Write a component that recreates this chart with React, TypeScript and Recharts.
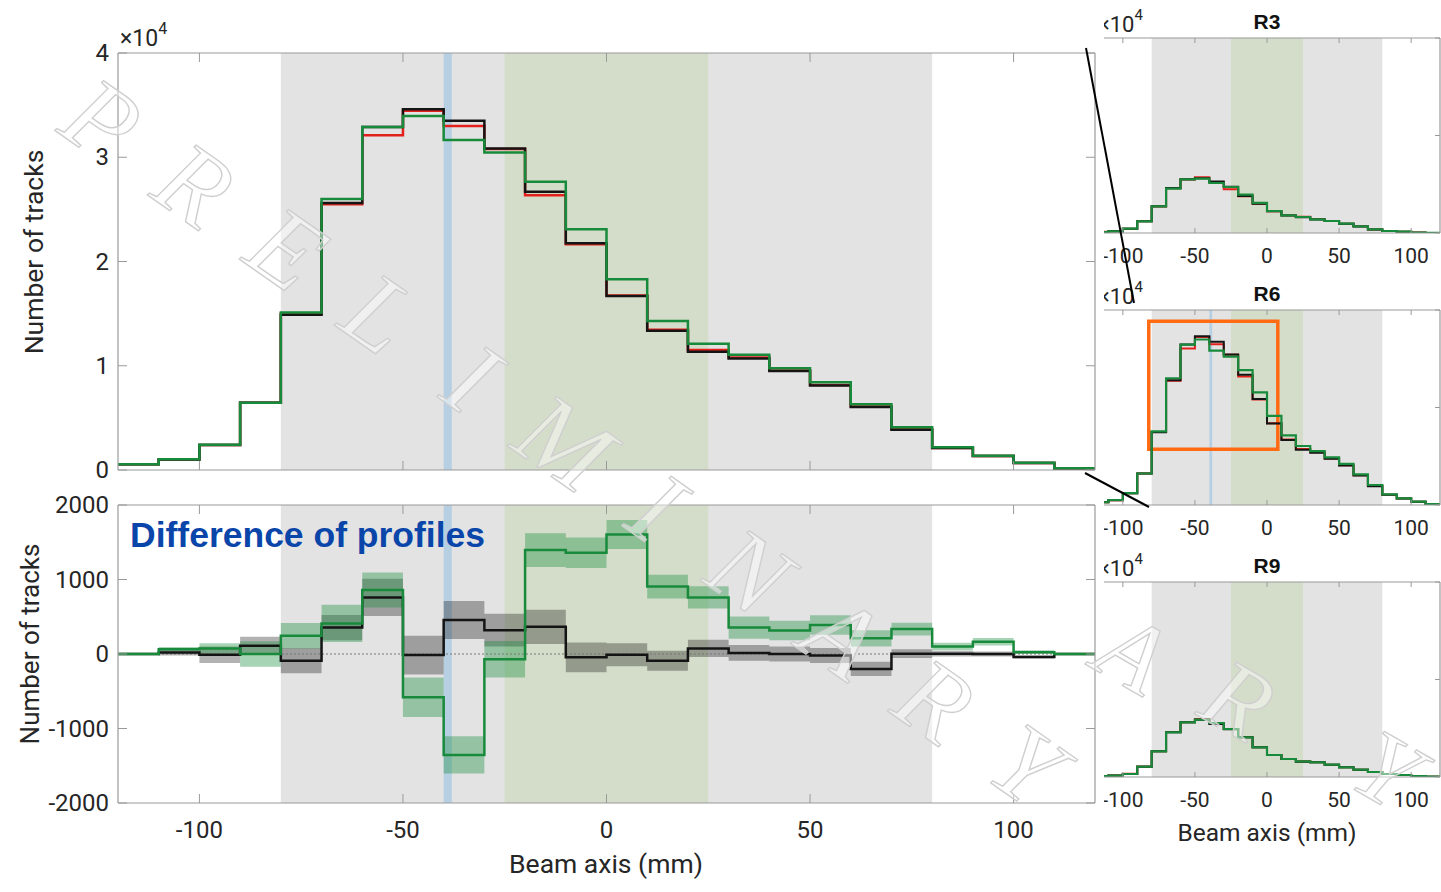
import React from "react";
import { ComposedChart, Line, Area, XAxis, YAxis, ReferenceArea, ReferenceLine } from "recharts";

// bins are 10 mm wide, given by their left edge
const binStarts = [-120, -110, -100, -90, -80, -70, -60, -50, -40, -30, -20, -10, 0, 10, 20, 30, 40, 50, 60, 70, 80, 90, 100, 110];
const binEnd = 120;

// R6 profiles (main panel, also the R6 thumbnail)
const r6Black = [550, 1000, 2400, 6450, 14900, 25600, 32900, 34600, 33500, 30850, 26700, 21750, 16700, 13350, 11350, 10700, 9500, 8100, 6050, 3850, 2100, 1350, 680, 150];
const r6Red = [550, 1000, 2400, 6450, 15000, 25500, 32100, 34450, 33000, 30800, 26350, 21650, 16750, 13450, 11500, 10800, 9550, 8150, 6100, 3900, 2100, 1350, 680, 150];
const r6Green = [560, 1030, 2420, 6460, 15100, 26000, 32900, 33950, 31650, 30450, 27650, 23100, 18300, 14300, 12100, 11050, 9750, 8420, 6300, 4100, 2180, 1370, 700, 160];

// difference of profiles and their uncertainties
const diffBlack = [0, 20, -10, 110, -90, 355, 760, -15, 455, 320, 365, -45, -10, -90, 75, 15, 0, -20, -200, 5, 5, 0, -40, 0];
const diffBlackErr = [10, 40, 110, 120, 170, 170, 250, 260, 255, 220, 230, 200, 155, 135, 115, 105, 100, 100, 95, 60, 40, 35, 20, 5];
const diffGreen = [0, 65, 75, 0, 245, 410, 860, -580, -1355, -70, 1395, 1360, 1605, 905, 760, 355, 315, 390, 210, 335, 100, 165, 25, 0];
const diffGreenErr = [10, 30, 70, 170, 170, 250, 235, 265, 250, 245, 227, 205, 195, 160, 150, 150, 130, 130, 110, 85, 50, 50, 25, 5];

// R3 thumbnail
const r3Black = [200, 340, 890, 2390, 5470, 9250, 11050, 11250, 10550, 9500, 7600, 6000, 4450, 3600, 3250, 2780, 2450, 1900, 1350, 740, 400, 260, 70, 20];
const r3Red = [250, 340, 890, 2390, 5450, 9200, 11000, 11450, 10400, 8950, 7550, 6000, 4450, 3650, 3320, 2850, 2460, 1900, 1360, 740, 420, 270, 80, 20];
const r3Green = [200, 340, 890, 2390, 5470, 9100, 11010, 11150, 10260, 9440, 7870, 6160, 4510, 3630, 3280, 2800, 2460, 1920, 1370, 750, 410, 270, 70, 20];

// R9 thumbnail
const r9Black = [200, 300, 620, 2120, 5270, 9170, 11220, 11760, 10880, 9800, 8140, 6090, 4510, 3690, 3150, 3010, 2530, 1980, 1500, 1030, 620, 410, 200, 70];
const r9Red = [200, 300, 680, 2150, 5300, 9250, 11250, 11900, 11080, 9850, 8140, 6090, 4510, 3690, 3210, 3050, 2530, 1980, 1500, 1030, 620, 410, 200, 70];
const r9Green = [200, 300, 620, 2120, 5270, 9170, 11220, 11760, 11080, 9850, 8140, 6090, 4510, 3690, 3210, 3010, 2530, 1980, 1500, 1030, 620, 410, 200, 70];

const xTicks = [-100, -50, 0, 50, 100];
const countTicks = [0, 10000, 20000, 30000, 40000];
const diffTicks = [-2000, -1000, 0, 1000, 2000];
const thumbRightTicks = [0, 20000, 40000];

const xDomain: [number, number] = [-120, 120];
const countDomain: [number, number] = [0, 40000];
const diffDomain: [number, number] = [-2000, 2000];

const axisGray = "#9a9a9a";
const textGray = "#262626";
const grayBand = "#e3e3e3";
const greenBand = "#d4ddc9";
const beamBlue = "#b7cfe2";
const cBlack = "#141414";
const cRed = "#e3211c";
const cGreen = "#188a3b";

function stepRows(cols: Record<string, number[]>) {
  return [...binStarts, binEnd].map((x, i) => {
    const j = Math.min(i, binStarts.length - 1);
    const row: Record<string, any> = { x };
    Object.keys(cols).forEach((k) => (row[k] = cols[k][j]));
    return row;
  });
}

const profileRows = stepRows({ black: r6Black, red: r6Red, green: r6Green });
const r3Rows = stepRows({ black: r3Black, red: r3Red, green: r3Green });
const r9Rows = stepRows({ black: r9Black, red: r9Red, green: r9Green });
const diffRows = stepRows({ black: diffBlack, green: diffGreen }).map((r, i) => {
  const j = Math.min(i, binStarts.length - 1);
  return {
    ...r,
    blackBand: [diffBlack[j] - diffBlackErr[j], diffBlack[j] + diffBlackErr[j]],
    greenBand: [diffGreen[j] - diffGreenErr[j], diffGreen[j] + diffGreenErr[j]],
  };
});

type TickSpec = { side: "bottom" | "top" | "left" | "right"; len: number; size?: number; gap?: number; fmt?: (v: number) => string };

// matlab style: ticks point into the box, labels outside
function tickRenderer(s: TickSpec) {
  return (p: any) => {
    const { x, y, payload } = p;
    const v = payload.value as number;
    const d = s.len;
    const seg =
      s.side === "bottom" ? [x, y, x, y - d] : s.side === "top" ? [x, y, x, y + d] : s.side === "left" ? [x, y, x + d, y] : [x, y, x - d, y];
    let label = null;
    if (s.fmt && s.side === "bottom")
      label = (
        <text x={x} y={y + (s.gap || 0)} textAnchor="middle" dominantBaseline="central" fontSize={s.size} fill={textGray}>
          {s.fmt(v)}
        </text>
      );
    if (s.fmt && s.side === "left")
      label = (
        <text x={x - (s.gap || 0)} y={y} textAnchor="end" dominantBaseline="central" fontSize={s.size} fill={textGray}>
          {s.fmt(v)}
        </text>
      );
    return (
      <g>
        <line x1={seg[0]} y1={seg[1]} x2={seg[2]} y2={seg[3]} stroke={axisGray} strokeWidth={1} />
        {label}
      </g>
    );
  };
}

const boxLine = { stroke: axisGray, strokeWidth: 1.2 };

function Thumb({ rows, top, beam, zoomBox }: { rows: any[]; top: number; beam?: boolean; zoomBox?: boolean }) {
  return (
    <div style={{ position: "absolute", left: -10, top }}>
      <ComposedChart width={347} height={275} data={rows} margin={{ top: 37, right: 0, bottom: 0, left: 0 }}>
        <XAxis xAxisId="b" dataKey="x" type="number" domain={xDomain} allowDataOverflow ticks={xTicks} interval={0} height={42}
          tickSize={0} tickMargin={0} tickLine={false} axisLine={boxLine} tick={tickRenderer({ side: "bottom", len: 5, size: 21, gap: 23, fmt: String })} />
        <XAxis xAxisId="t" orientation="top" dataKey="x" type="number" domain={xDomain} allowDataOverflow ticks={xTicks} interval={0} height={1}
          tickSize={0} tickMargin={0} tickLine={false} axisLine={boxLine} tick={tickRenderer({ side: "top", len: 5 })} />
        <YAxis yAxisId="l" type="number" domain={countDomain} allowDataOverflow hide width={0} />
        <YAxis yAxisId="r" orientation="right" type="number" domain={countDomain} allowDataOverflow ticks={thumbRightTicks} interval={0} width={1}
          tickSize={0} tickMargin={0} tickLine={false} axisLine={boxLine} tick={tickRenderer({ side: "right", len: 5 })} />
        <ReferenceArea xAxisId="b" yAxisId="l" x1={-80} x2={80} fill={grayBand} fillOpacity={1} stroke="none" />
        <ReferenceArea xAxisId="b" yAxisId="l" x1={-25} x2={25} fill={greenBand} fillOpacity={1} stroke="none" />
        {beam && <ReferenceArea xAxisId="b" yAxisId="l" x1={-40} x2={-38} fill={beamBlue} fillOpacity={1} stroke="none" />}
        <Line xAxisId="b" yAxisId="l" type="stepAfter" dataKey="red" stroke={cRed} strokeWidth={2} dot={false} isAnimationActive={false} />
        <Line xAxisId="b" yAxisId="l" type="stepAfter" dataKey="black" stroke={cBlack} strokeWidth={2} dot={false} isAnimationActive={false} />
        <Line xAxisId="b" yAxisId="l" type="stepAfter" dataKey="green" stroke={cGreen} strokeWidth={2.2} dot={false} isAnimationActive={false} />
        {zoomBox && (
          <ReferenceArea xAxisId="b" yAxisId="l" x1={-82} x2={7.5} y1={11450} y2={37700} fill="none" fillOpacity={0}
            stroke="#ff6a13" strokeWidth={3.5} ifOverflow="visible" />
        )}
      </ComposedChart>
    </div>
  );
}

const wmMain = "PRELIMINARY".split("");
const wmSide = ["A", "R", "Y"];
const wmSidePos = [
  [1133, 653],
  [1238, 700],
  [1387, 770],
];

export default function App() {
  return (
    <div style={{ position: "absolute", left: 0, top: 0, width: 1441, height: 892, background: "#fff", fontFamily: "Roboto, sans-serif", overflow: "hidden" }}>
      {/* main profile panel */}
      <div style={{ position: "absolute", left: 0, top: 0 }}>
        <ComposedChart width={1100} height={492} data={profileRows} margin={{ top: 52, right: 4, bottom: 21, left: 0 }}>
          <XAxis xAxisId="b" dataKey="x" type="number" domain={xDomain} allowDataOverflow ticks={xTicks} interval={0} height={1}
            tickSize={0} tickMargin={0} tickLine={false} axisLine={boxLine} tick={tickRenderer({ side: "bottom", len: 9 })} />
          <XAxis xAxisId="t" orientation="top" dataKey="x" type="number" domain={xDomain} allowDataOverflow ticks={xTicks} interval={0} height={1}
            tickSize={0} tickMargin={0} tickLine={false} axisLine={boxLine} tick={tickRenderer({ side: "top", len: 9 })} />
          <YAxis yAxisId="l" type="number" domain={countDomain} allowDataOverflow ticks={countTicks} interval={0} width={118}
            tickSize={0} tickMargin={0} tickLine={false} axisLine={boxLine}
            tick={tickRenderer({ side: "left", len: 9, size: 24, gap: 9, fmt: (v) => String(v / 10000) })} />
          <YAxis yAxisId="r" orientation="right" type="number" domain={countDomain} allowDataOverflow ticks={countTicks} interval={0} width={1}
            tickSize={0} tickMargin={0} tickLine={false} axisLine={boxLine} tick={tickRenderer({ side: "right", len: 9 })} />
          <ReferenceArea xAxisId="b" yAxisId="l" x1={-80} x2={80} fill={grayBand} fillOpacity={1} stroke="none" />
          <ReferenceArea xAxisId="b" yAxisId="l" x1={-25} x2={25} fill={greenBand} fillOpacity={1} stroke="none" />
          <ReferenceArea xAxisId="b" yAxisId="l" x1={-40} x2={-38} fill={beamBlue} fillOpacity={1} stroke="none" />
          <Line xAxisId="b" yAxisId="l" type="stepAfter" dataKey="red" stroke={cRed} strokeWidth={2.5} dot={false} isAnimationActive={false} />
          <Line xAxisId="b" yAxisId="l" type="stepAfter" dataKey="black" stroke={cBlack} strokeWidth={2.5} dot={false} isAnimationActive={false} />
          <Line xAxisId="b" yAxisId="l" type="stepAfter" dataKey="green" stroke={cGreen} strokeWidth={2.5} dot={false} isAnimationActive={false} />
        </ComposedChart>
      </div>

      {/* difference panel */}
      <div style={{ position: "absolute", left: 0, top: 480 }}>
        <ComposedChart width={1100} height={412} data={diffRows} margin={{ top: 24, right: 4, bottom: 0, left: 0 }}>
          <XAxis xAxisId="b" dataKey="x" type="number" domain={xDomain} allowDataOverflow ticks={xTicks} interval={0} height={89}
            tickSize={0} tickMargin={0} tickLine={false} axisLine={boxLine} tick={tickRenderer({ side: "bottom", len: 9, size: 24, gap: 27, fmt: String })} />
          <XAxis xAxisId="t" orientation="top" dataKey="x" type="number" domain={xDomain} allowDataOverflow ticks={xTicks} interval={0} height={1}
            tickSize={0} tickMargin={0} tickLine={false} axisLine={boxLine} tick={tickRenderer({ side: "top", len: 9 })} />
          <YAxis yAxisId="l" type="number" domain={diffDomain} allowDataOverflow ticks={diffTicks} interval={0} width={118}
            tickSize={0} tickMargin={0} tickLine={false} axisLine={boxLine} tick={tickRenderer({ side: "left", len: 9, size: 24, gap: 9, fmt: String })} />
          <YAxis yAxisId="r" orientation="right" type="number" domain={diffDomain} allowDataOverflow ticks={diffTicks} interval={0} width={1}
            tickSize={0} tickMargin={0} tickLine={false} axisLine={boxLine} tick={tickRenderer({ side: "right", len: 9 })} />
          <ReferenceArea xAxisId="b" yAxisId="l" x1={-80} x2={80} fill={grayBand} fillOpacity={1} stroke="none" />
          <ReferenceArea xAxisId="b" yAxisId="l" x1={-25} x2={25} fill={greenBand} fillOpacity={1} stroke="none" />
          <ReferenceArea xAxisId="b" yAxisId="l" x1={-40} x2={-38} fill={beamBlue} fillOpacity={1} stroke="none" />
          <Area xAxisId="b" yAxisId="l" type="stepAfter" dataKey="blackBand" fill="#000" fillOpacity={0.3} stroke="none" isAnimationActive={false} />
          <Area xAxisId="b" yAxisId="l" type="stepAfter" dataKey="greenBand" fill="#1a8f3e" fillOpacity={0.38} stroke="none" isAnimationActive={false} />
          <ReferenceLine xAxisId="b" yAxisId="l" y={0} stroke="#777" strokeDasharray="2 2" strokeWidth={1} />
          <Line xAxisId="b" yAxisId="l" type="stepAfter" dataKey="black" stroke={cBlack} strokeWidth={2.5} dot={false} isAnimationActive={false} />
          <Line xAxisId="b" yAxisId="l" type="stepAfter" dataKey="green" stroke={cGreen} strokeWidth={2.5} dot={false} isAnimationActive={false} />
        </ComposedChart>
      </div>

      {/* thumbnails, left part hidden behind the main figure */}
      <div style={{ position: "absolute", left: 1104, top: 0, width: 337, height: 892, overflow: "hidden" }}>
        <Thumb rows={r3Rows} top={0} />
        <Thumb rows={profileRows} top={272} beam zoomBox />
        <Thumb rows={r9Rows} top={544} />
      </div>

      {/* annotations */}
      <svg width={1441} height={892} style={{ position: "absolute", left: 0, top: 0, pointerEvents: "none" }}>
        <defs>
          <clipPath id="thumbClip">
            <rect x={1104} y={0} width={337} height={892} />
          </clipPath>
        </defs>
        <text x={120} y={46} fontSize={23} fill={textGray}>
          ×10<tspan dy={-12} fontSize={16}>4</tspan>
        </text>
        <text transform="translate(43,252) rotate(-90)" textAnchor="middle" fontSize={26.5} fill={textGray}>Number of tracks</text>
        <text transform="translate(38.5,644) rotate(-90)" textAnchor="middle" fontSize={26} fill={textGray}>Number of tracks</text>
        <text x={606} y={873} textAnchor="middle" fontSize={26.5} fill={textGray}>Beam axis (mm)</text>
        <text x={1267} y={841} textAnchor="middle" fontSize={24.5} fill={textGray}>Beam axis (mm)</text>
        <text x={130} y={547} fontFamily="'Liberation Sans', Arial, sans-serif" fontWeight="bold" fontSize={35.5} fill="#0a46aa">Difference of profiles</text>
        {[["R3", 0], ["R6", 272], ["R9", 544]].map(([t, dy]) => (
          <g key={t as string}>
            <text x={1267} y={28.5 + (dy as number)} textAnchor="middle" fontFamily="'Liberation Sans', Arial, sans-serif" fontWeight="bold" fontSize={21} fill="#111">{t}</text>
            <g clipPath="url(#thumbClip)">
              <text x={1098} y={32 + (dy as number)} fontSize={22} fill={textGray}>
                ×10<tspan dy={-12} fontSize={15}>4</tspan>
              </text>
            </g>
          </g>
        ))}
        <line x1={1086} y1={48} x2={1134} y2={303} stroke="#000" strokeWidth={2} />
        <line x1={1085} y1={473} x2={1149} y2={507} stroke="#000" strokeWidth={2} />
        {/* watermark */}
        {wmMain.map((ch, i) => (
          <text key={i} transform={`translate(${102 + i * 92.5},${120 + i * 64.5}) rotate(35)`} textAnchor="middle" dominantBaseline="central"
            fontFamily="'Liberation Serif', serif" fontStyle="italic" fontSize={105} fill="#fff" fillOpacity={0.45} stroke="#cfcfcf" strokeWidth={1.4}>
            {ch}
          </text>
        ))}
        {wmSide.map((ch, i) => (
          <text key={"s" + i} transform={`translate(${wmSidePos[i][0]},${wmSidePos[i][1]}) rotate(30)`} textAnchor="middle" dominantBaseline="central"
            fontFamily="'Liberation Serif', serif" fontStyle="italic" fontSize={100} fill="#fff" fillOpacity={0.45} stroke="#cfcfcf" strokeWidth={1.4}>
            {ch}
          </text>
        ))}
      </svg>
    </div>
  );
}
